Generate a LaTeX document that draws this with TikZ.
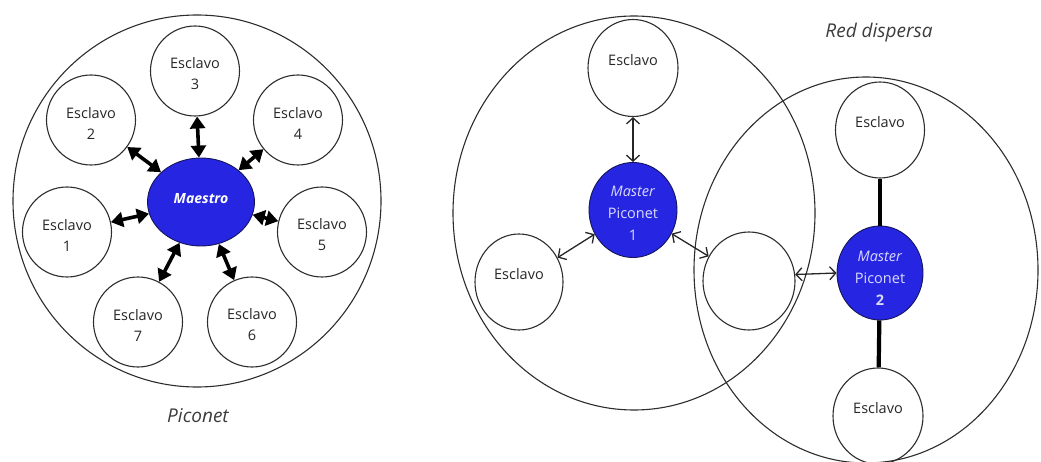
\documentclass[tikz,border=0pt]{standalone}
\usepackage{fontspec}
\setmainfont{Open Sans}
\usetikzlibrary{shapes.geometric,arrows.meta}
\definecolor{nodeblue}{RGB}{38,38,226}
\definecolor{edgeblue}{RGB}{20,20,90}
\definecolor{linegray}{RGB}{45,45,45}
\definecolor{paletext}{RGB}{218,218,255}
\definecolor{captiongray}{RGB}{60,60,60}

\begin{document}
\begin{tikzpicture}[x=1pt,y=-1pt,
  ring/.style={draw=linegray,line width=1.1pt,ellipse,inner sep=0pt},
  slave/.style={draw=linegray,line width=1.1pt,ellipse,inner sep=0pt,
    minimum width=89pt,minimum height=90pt},
  slavetext/.style={align=center,text=black!85,
    font=\fontsize{14.5}{21}\selectfont,inner sep=0pt},
  master/.style={draw=edgeblue,line width=0.9pt,fill=nodeblue,ellipse,inner sep=0pt},
  mastertext/.style={align=center,text=paletext,
    font=\fontsize{14.5}{22}\selectfont,inner sep=0pt},
  caption/.style={text=captiongray,font=\fontsize{19}{22}\selectfont\itshape},
  fatarrow/.style={line width=3.6pt,draw=black,
    {Triangle[length=12pt,width=15pt]}-{Triangle[length=12pt,width=15pt]}},
  thinarrow/.style={line width=1.3pt,draw=black!85,
    {Straight Barb[length=6pt,width=13pt]}-{Straight Barb[length=6pt,width=13pt]}},
  fatlink/.style={line width=4.2pt,draw=black}
]
\useasboundingbox (0,0) rectangle (1041,462);

% ---------- Piconet ----------
\node[ring,minimum width=368pt,minimum height=372pt] (pico) at (197,201) {};
\node[master,minimum width=107pt,minimum height=88pt] (mae) at (201,202) {};
\node[inner sep=0pt,text=white,font=\fontsize{14}{16}\selectfont\bfseries\itshape]
  (maet) at (201,199) {Maestro};

\foreach \i/\x/\y in {1/67/232,2/91/120,3/195/71,4/298/120,5/322/232,6/252/322,7/138/322}{
  \node[slave] (s\i) at (\x,\y) {};
  \node[slavetext,yshift=-3pt] (t\i) at (\x,\y) {Esclavo\\\i};
  \draw[fatarrow] (mae) -- (s\i);
}

\node[caption] (picolbl) at (198,416) {Piconet};

% ---------- Red dispersa ----------
\node[ring,minimum width=362pt,minimum height=394pt] (ringA) at (634,213) {};
\node[ring,minimum width=344pt,minimum height=386pt] (ringB) at (866,270) {};

% piconet 1
\node[master,minimum width=88pt,minimum height=95pt] (m1) at (633,210) {};
\node[mastertext,yshift=-3pt] (m1t) at (633,210)
  {\textit{Master}\\Piconet\\1};
\node[slave,minimum width=90pt,minimum height=97pt] (ta) at (633,68) {};
\node[slavetext,yshift=8pt] (tat) at (633,68) {Esclavo};
\node[slave,minimum width=88pt,minimum height=96pt] (la) at (519,282) {};
\node[slavetext,yshift=8pt] (lat) at (519,282) {Esclavo};
\node[slave,minimum width=92pt,minimum height=98pt] (mid) at (749,281) {};

\draw[thinarrow] (m1) -- (ta);
\draw[thinarrow] (m1) -- (la);
\draw[thinarrow] (m1) -- (mid);

% piconet 2
\node[master,minimum width=86pt,minimum height=94pt] (m2) at (880,273) {};
\node[mastertext,yshift=-5pt] (m2t) at (880,273)
  {\textit{Master}\\Piconet\\\textbf{2}};
\node[slave,minimum width=89pt,minimum height=96pt] (tb) at (880,130) {};
\node[slavetext,yshift=8pt] (tbt) at (880,130) {Esclavo};
\node[slave,minimum width=90pt,minimum height=96pt] (bb) at (878,416) {};
\node[slavetext,yshift=8pt] (bbt) at (878,416) {Esclavo};

\draw[fatlink] (tb) -- (m2);
\draw[fatlink] (m2) -- (bb);
\draw[thinarrow] (mid.8) -- (m2.west);

\node[caption] (redlbl) at (879,33) {Red dispersa};
\end{tikzpicture}
\end{document}
